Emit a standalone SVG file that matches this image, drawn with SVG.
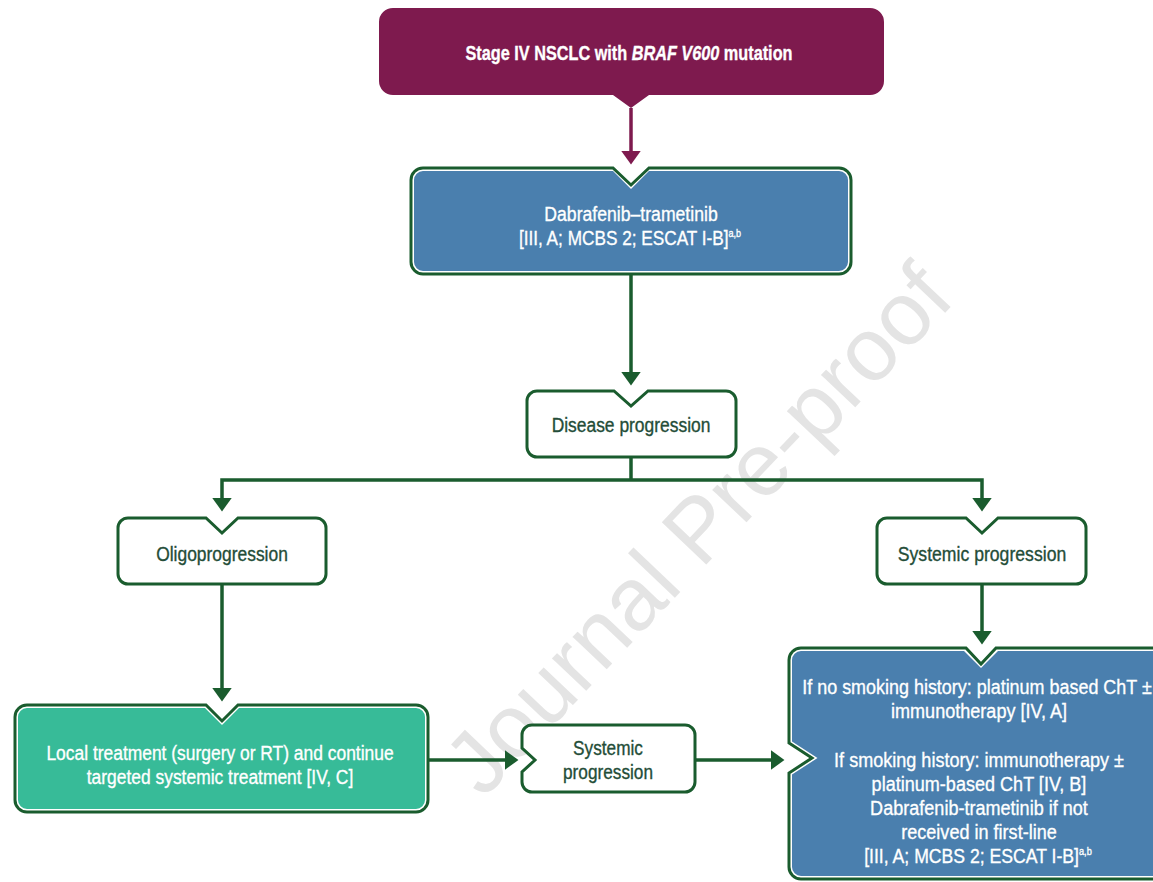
<svg xmlns="http://www.w3.org/2000/svg" width="1153" height="882" viewBox="0 0 1153 882">
<style>
text{font-family:"Liberation Sans",Arial,sans-serif;font-size:21px;text-anchor:middle}
.w{fill:#ffffff;stroke:#ffffff;stroke-width:0.35}
.g{fill:#244d38;stroke:#244d38;stroke-width:0.35}
.box{fill:#ffffff;stroke:#1a5c2e;stroke-width:3}
.con{fill:none;stroke:#1a5c2e;stroke-width:3.5}
.wm{font-size:89px;fill:#e4e4e4}
</style>
<defs>
<marker id="ag" markerUnits="userSpaceOnUse" markerWidth="14" markerHeight="20" refX="0" refY="9" orient="auto" viewBox="0 0 13 18"><path d="M0,0 L12.5,9 L0,18 Z" fill="#1a5c2e"/></marker>
<marker id="am" markerUnits="userSpaceOnUse" markerWidth="14" markerHeight="20" refX="0" refY="9" orient="auto" viewBox="0 0 13 18"><path d="M0,0 L12.5,9 L0,18 Z" fill="#7e1a4e"/></marker>
</defs>
<rect width="1153" height="882" fill="#ffffff"/>
<text class="wm" transform="translate(720,550) rotate(-46.5)">Journal Pre-proof</text>

<g id="connectors">
<path d="M631,108 V151" fill="none" stroke="#7e1a4e" stroke-width="3.5" marker-end="url(#am)"/>
<path class="con" d="M631,274 V372" marker-end="url(#ag)"/>
<path class="con" d="M631,457 V480"/>
<path class="con" d="M631,480 H222 V498" marker-end="url(#ag)"/>
<path class="con" d="M631,480 H982 V498" marker-end="url(#ag)"/>
<path class="con" d="M222,584 V688" marker-end="url(#ag)"/>
<path class="con" d="M982,584 V631" marker-end="url(#ag)"/>
<path class="con" d="M428,760 H505" marker-end="url(#ag)"/>
<path class="con" d="M695,760 H771" marker-end="url(#ag)"/>
</g>

<g id="n-start">
<path d="M393,8 H870 A14,14 0 0 1 884,22 V81 A14,14 0 0 1 870,95 H649 L631,108 L613,95 H393 A14,14 0 0 1 379,81 V22 A14,14 0 0 1 393,8 Z" fill="#7e1a4e"/>
<text class="w" transform="matrix(0.775 0 0 1 629 60)" font-weight="bold" stroke-width="0">Stage IV NSCLC with <tspan font-style="italic">BRAF V600</tspan> mutation</text>
</g>

<g id="n-dabrafenib">
<path class="box" d="M423,168 H613 L631,185 L649,168 H839 A12,12 0 0 1 851,180 V262 A12,12 0 0 1 839,274 H423 A12,12 0 0 1 411,262 V180 A12,12 0 0 1 423,168 Z"/>
<path d="M423,171 H613 L631,189 L649,171 H839 A9,9 0 0 1 848,180 V262 A9,9 0 0 1 839,271 H423 A9,9 0 0 1 414,262 V180 A9,9 0 0 1 423,171 Z" fill="#4a7fae"/>
<text class="w" transform="matrix(0.84 0 0 1 631 221)">Dabrafenib–trametinib</text>
<text class="w" transform="matrix(0.82 0 0 1 630 245)">[III, A; MCBS 2; ESCAT I-B]<tspan font-size="11" dy="-8">a,b</tspan></text>
</g>

<g id="n-disease">
<path class="box" d="M537,391 H614 L631,406 L648,391 H726 A10,10 0 0 1 736,401 V447 A10,10 0 0 1 726,457 H537 A10,10 0 0 1 527,447 V401 A10,10 0 0 1 537,391 Z"/>
<text class="g" transform="matrix(0.83 0 0 1 631 432)">Disease progression</text>
</g>

<g id="n-oligo">
<path class="box" d="M128,518 H206 L222,533 L238,518 H316 A10,10 0 0 1 326,528 V574 A10,10 0 0 1 316,584 H128 A10,10 0 0 1 118,574 V528 A10,10 0 0 1 128,518 Z"/>
<text class="g" transform="matrix(0.83 0 0 1 222 561)">Oligoprogression</text>
</g>

<g id="n-systemic1">
<path class="box" d="M887,518 H966 L982,533 L998,518 H1076 A10,10 0 0 1 1086,528 V574 A10,10 0 0 1 1076,584 H887 A10,10 0 0 1 877,574 V528 A10,10 0 0 1 887,518 Z"/>
<text class="g" transform="matrix(0.84 0 0 1 982 561)">Systemic progression</text>
</g>

<g id="n-local">
<path class="box" d="M27,705 H206 L222,721 L238,705 H416 A12,12 0 0 1 428,717 V800 A12,12 0 0 1 416,812 H27 A12,12 0 0 1 15,800 V717 A12,12 0 0 1 27,705 Z"/>
<path d="M27,708 H205 L222,725 L239,708 H416 A9,9 0 0 1 425,717 V800 A9,9 0 0 1 416,809 H27 A9,9 0 0 1 18,800 V717 A9,9 0 0 1 27,708 Z" fill="#37bb98"/>
<text class="w" transform="matrix(0.83 0 0 1 220 760)">Local treatment (surgery or RT) and continue</text>
<text class="w" transform="matrix(0.83 0 0 1 220 784)">targeted systemic treatment [IV, C]</text>
</g>

<g id="n-systemic2">
<path class="box" d="M532,725 H685 A10,10 0 0 1 695,735 V782 A10,10 0 0 1 685,792 H532 A10,10 0 0 1 522,782 V772 L535,760 L522,748 V735 A10,10 0 0 1 532,725 Z"/>
<text class="g" transform="matrix(0.82 0 0 1 608 755)">Systemic</text>
<text class="g" transform="matrix(0.82 0 0 1 608 779)">progression</text>
</g>

<g id="n-second-line">
<path class="box" d="M801,648 H966 L981,664 L996,648 H1153 A12,12 0 0 1 1165,660 V867 A12,12 0 0 1 1153,879 H801 A12,12 0 0 1 789,867 V773 L812,758 L789,743 V660 A12,12 0 0 1 801,648 Z"/>
<path d="M801,651 H964 L981,668 L998,651 H1153 A9,9 0 0 1 1162,660 V867 A9,9 0 0 1 1153,876 H801 A9,9 0 0 1 792,867 V774.6 L817.5,758 L792,741.4 V660 A9,9 0 0 1 801,651 Z" fill="#4a7fae"/>
<text class="w" transform="matrix(0.855 0 0 1 977 694)">If no smoking history: platinum based ChT ±</text>
<text class="w" transform="matrix(0.86 0 0 1 979 718)">immunotherapy [IV, A]</text>
<text class="w" transform="matrix(0.86 0 0 1 979 767)">If smoking history: immunotherapy ±</text>
<text class="w" transform="matrix(0.86 0 0 1 979 791)">platinum-based ChT [IV, B]</text>
<text class="w" transform="matrix(0.86 0 0 1 979 815)">Dabrafenib-trametinib if not</text>
<text class="w" transform="matrix(0.86 0 0 1 979 839)">received in first-line</text>
<text class="w" transform="matrix(0.84 0 0 1 978 863)">[III, A; MCBS 2; ESCAT I-B]<tspan font-size="11" dy="-8">a,b</tspan></text>
</g>
</svg>
